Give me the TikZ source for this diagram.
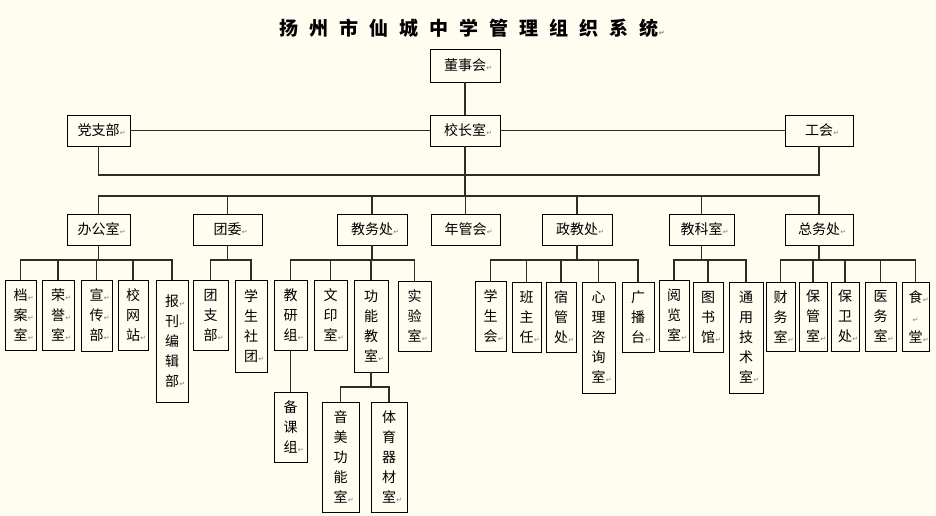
\documentclass[tikz,border=0pt]{standalone}
\usepackage{fontspec}
\newfontfamily\cjk{Noto Sans CJK SC}
\newfontfamily\mkfont{DejaVu Sans}
\definecolor{bg}{RGB}{255,252,240}
\definecolor{ln}{RGB}{45,45,40}
\newcommand\mk{\rlap{\kern0.3pt\textcolor{gray}{\mkfont\fontsize{7}{7}\selectfont ↵}}}
\newcommand\mkc{\makebox[0pt]{\textcolor{gray}{\mkfont\fontsize{7}{7}\selectfont ↵}}}
\newcommand\ts{\hspace{11pt}}
\tikzset{
  box/.style={draw=black,line width=0.9pt,inner sep=0pt,align=center,font=\cjk\fontsize{14}{20}\selectfont},
  conn/.style={draw=ln,line width=1.15pt}
}
\newcommand\bx[6]{\node[box,minimum width={#4-#2},minimum height={#5-#3}] (#1) at ({(#2+#4)/2},{(#3+#5)/2}) {#6};}
\begin{document}
\begin{tikzpicture}[x=1pt,y=-1pt]
\fill[bg] (0,0) rectangle (936,516);
\useasboundingbox (0,0) rectangle (936,516);
\node[font=\cjk\bfseries\fontsize{19}{19}\selectfont] (title) at (469,28) {扬\ts 州\ts 市\ts 仙\ts 城\ts 中\ts 学\ts 管\ts 理\ts 组\ts 织\ts 系\ts 统\mk};
% top
\bx{ds}{430}{49}{500}{82}{董事会\mk}
\bx{xz}{430}{115}{500}{146}{校长室\mk}
\bx{dang}{67}{115}{130}{146}{党支部\mk}
\bx{gh}{785}{115}{853}{146}{工会\mk}
% level 2
\bx{bgs}{67}{214}{130}{245}{办公室\mk}
\bx{tw}{193}{214}{262}{245}{团委\mk}
\bx{jwc}{337}{214}{407}{245}{教务处\mk}
\bx{ngh}{431}{214}{500}{245}{年管会\mk}
\bx{zjc}{542}{214}{612}{245}{政教处\mk}
\bx{jks}{669}{214}{734}{245}{教科室\mk}
\bx{zwc}{785}{214}{853}{245}{总务处\mk}
% level 3
\bx{dangan}{5}{280}{36}{350}{档\mk\\案\mk\\室\mk}
\bx{rongyu}{42}{280}{74}{350}{荣\mk\\誉\mk\\室\mk}
\bx{xuanchuan}{81}{280}{112}{351}{宣\mk\\传\mk\\部\mk}
\bx{xiaowang}{118}{280}{148}{350}{校\\网\\站\mk}
\bx{baokan}{156}{280}{188}{402}{报\mk\\刊\mk\\编\\辑\\部\mk}
\bx{tzb}{193}{280}{228}{350}{团\\支\\部\mk}
\bx{xsst}{235}{280}{267}{372}{学\\生\\社\\团\mk}
\bx{jyz}{274}{280}{307}{350}{教\\研\\组\mk}
\bx{wys}{314}{280}{347}{350}{文\\印\\室\mk}
\bx{gnjs}{354}{280}{388}{372}{功\\能\\教\\室\mk}
\bx{sys}{398}{281}{431}{351}{实\\验\\室\mk}
\bx{bkz}{274}{392}{307}{462}{备\\课\\组\mk}
\bx{ymgn}{322}{402}{359}{512}{音\\美\\功\\能\\室\mk}
\bx{tyqc}{371}{402}{407}{512}{体\\育\\器\\材\\室\mk}
\bx{xsh}{475}{281}{506}{351}{学\\生\\会\mk}
\bx{bzr}{512}{282}{541}{352}{班\\主\\任\mk}
\bx{sgc}{546}{282}{576}{352}{宿\\管\\处\mk}
\bx{xlzx}{582}{282}{615}{393}{心\\理\\咨\\询\\室\mk}
\bx{gbt}{622}{282}{654}{352}{广\\播\\台\mk}
\bx{yls}{659}{280}{689}{351}{阅\\览\\室\mk}
\bx{tsg}{693}{282}{723}{352}{图\\书\\馆\mk}
\bx{tyjs}{729}{282}{763}{393}{通\\用\\技\\术\\室\mk}
\bx{cws}{766}{282}{795}{351}{财\\务\\室\mk}
\bx{bgsh}{799}{282}{827}{351}{保\\管\\室\mk}
\bx{bwc}{831}{282}{859}{351}{保\\卫\\处\mk}
\bx{yws}{865}{282}{896}{351}{医\\务\\室\mk}
\bx{st}{902}{282}{929}{351}{食\mk\\\mkc\\堂\mk}
% bus coordinates
\coordinate (b0) at (0,175);
\coordinate (b1) at (0,196);
\coordinate (b2) at (0,260);
\coordinate (b3) at (0,387);
% connectors
\draw[conn] (ds.south) -- (xz.north);
\draw[conn] (dang.east) -- (xz.west);
\draw[conn] (xz.east) -- (gh.west);
\draw[conn] (dang.south) |- (gh.south |- b0) -- (gh.south);
\foreach \c in {bgs,tw,jwc,ngh,zjc,jks,zwc}
  \draw[conn] (xz.south) |- (\c.north |- b1) -- (\c.north);
\foreach \c in {dangan,rongyu,xuanchuan,xiaowang,baokan}
  \draw[conn] (bgs.south) |- (\c.north |- b2) -- (\c.north);
\foreach \c in {tzb,xsst}
  \draw[conn] (tw.south) |- (\c.north |- b2) -- (\c.north);
\foreach \c in {jyz,wys,gnjs,sys}
  \draw[conn] (jwc.south) |- (\c.north |- b2) -- (\c.north);
\foreach \c in {xsh,bzr,sgc,xlzx,gbt}
  \draw[conn] (zjc.south) |- (\c.north |- b2) -- (\c.north);
\foreach \c in {yls,tsg,tyjs}
  \draw[conn] (jks.south) |- (\c.north |- b2) -- (\c.north);
\foreach \c in {cws,bgsh,bwc,yws,st}
  \draw[conn] (zwc.south) |- (\c.north |- b2) -- (\c.north);
\draw[conn] (jyz.south) -- (bkz.north);
\foreach \c in {ymgn,tyqc}
  \draw[conn] (gnjs.south) |- (\c.north |- b3) -- (\c.north);
\end{tikzpicture}
\end{document}
